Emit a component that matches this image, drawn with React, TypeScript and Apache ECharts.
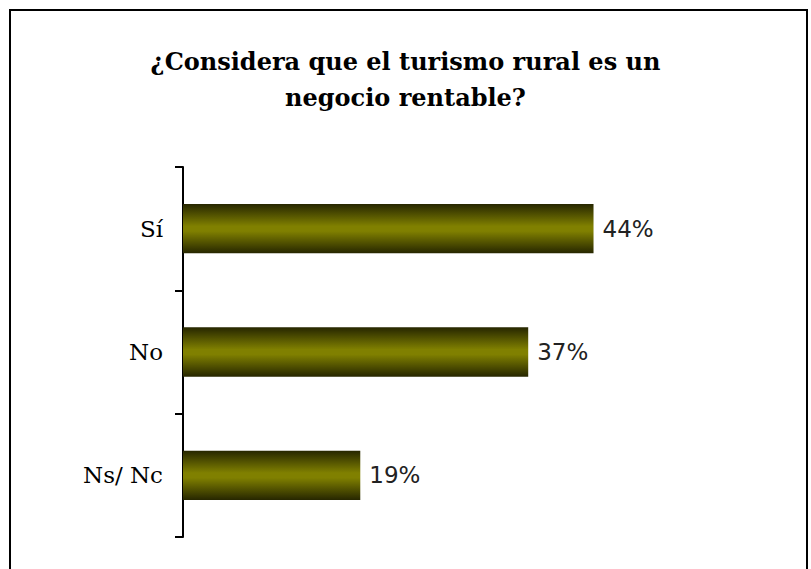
import React, { useEffect, useRef } from "react";
import * as echarts from "echarts";

const categories = ["Sí", "No", "Ns/ Nc"];
const values = [44, 37, 19];
const titleLines = ["¿Considera que el turismo rural es un", "negocio rentable?"];

export default function App() {
  const ref = useRef<HTMLDivElement>(null);
  useEffect(() => {
    document.body.style.margin = "0";
    const chart = echarts.init(ref.current!, null, { renderer: "svg" });
    chart.setOption({
      animation: false,
      backgroundColor: "#ffffff",
      title: {
        text: titleLines.join("\n"),
        left: "center",
        top: 38,
        textStyle: {
          fontFamily: "DejaVu Serif",
          fontWeight: "bold",
          fontSize: 24,
          lineHeight: 36,
          color: "#000",
        },
      },
      graphic: [
        {
          type: "rect",
          shape: { x: 10, y: 10, width: 797, height: 600 },
          style: { fill: "none", stroke: "#000", lineWidth: 2 },
          silent: true,
        },
      ],
      grid: { left: 183, right: 161.5, top: 167, bottom: 32 },
      xAxis: {
        type: "value",
        min: 0,
        max: 50,
        show: false,
      },
      yAxis: {
        type: "category",
        data: categories,
        inverse: true,
        axisLine: { show: true, lineStyle: { color: "#000", width: 2 } },
        axisTick: {
          show: true,
          alignWithLabel: false,
          interval: 0,
          length: 8,
          lineStyle: { color: "#000", width: 2 },
        },
        axisLabel: {
          margin: 20,
          fontFamily: "DejaVu Serif",
          fontSize: 23,
          color: "#000",
        },
        splitLine: { show: false },
      },
      series: [
        {
          type: "bar",
          data: values,
          barWidth: "40%",
          itemStyle: {
            color: new echarts.graphic.LinearGradient(0, 0, 0, 1, [
              { offset: 0, color: "#262600" },
              { offset: 0.45, color: "#808000" },
              { offset: 0.55, color: "#808000" },
              { offset: 1, color: "#262600" },
            ]),
          },
          label: {
            show: true,
            position: "right",
            distance: 9,
            formatter: "{c}%",
            fontFamily: "DejaVu Sans",
            fontSize: 23,
            color: "#222",
          },
        },
      ],
    });
    return () => chart.dispose();
  }, []);
  return (
    <div
      ref={ref}
      style={{ position: "absolute", left: 0, top: 0, width: 811, height: 569 }}
    />
  );
}
